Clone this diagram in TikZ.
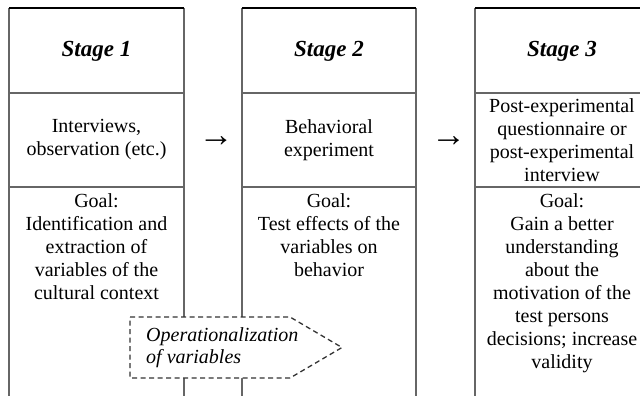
\documentclass[tikz,border=0pt]{standalone}
\usepackage{fontspec}
\setmainfont{Liberation Serif}
\begin{document}
\begin{tikzpicture}[x=1pt,y=-1pt,
  frame/.style={line width=1.4pt, draw=black!60},
  topline/.style={line width=1.6pt, draw=black},
  txt/.style={align=center, font=\fontsize{20}{23}\selectfont, inner sep=0pt},
  head/.style={font=\fontsize{23}{27}\selectfont\bfseries\itshape, inner sep=0pt},
  arr/.style={font=\fontsize{35}{36}\selectfont, inner sep=0pt},
  opbox/.style={line width=1.3pt, draw=black!80, dash pattern=on 5pt off 3.5pt, fill=white},
  optxt/.style={align=left, font=\fontsize{20}{22}\selectfont\itshape, inner sep=0pt, anchor=west}]
\useasboundingbox (0,0) rectangle (640,396);
% column 1
\draw[frame] (9,396) -- (9,8);
\draw[frame] (184,8) -- (184,396);
\draw[frame] (9,93) -- (184,93);
\draw[frame] (9,187) -- (184,187);
\draw[topline] (9,8) -- (184,8);
% column 2
\draw[frame] (242,396) -- (242,8);
\draw[frame] (416,8) -- (416,396);
\draw[frame] (242,93) -- (416,93);
\draw[frame] (242,187) -- (416,187);
\draw[topline] (242,8) -- (416,8);
% column 3
\draw[frame] (475,396) -- (475,8);
\draw[frame] (475,93) -- (641,93);
\draw[frame] (475,187) -- (641,187);
\draw[topline] (475,8) -- (641,8);
% headings
\node[head] (h1) at (96.5,51) {Stage 1};
\node[head] (h2) at (329,51) {Stage 2};
\node[head] (h3) at (562,51) {Stage 3};
% methods
\node[txt] (m1) at (96.5,140) {Interviews,\\observation (etc.)};
\node[txt] (m2) at (329,140) {Behavioral\\experiment};
\node[txt] (m3) at (562,140) {Post-experimental\\questionnaire or\\post-experimental\\interview};
% arrows
\node[arr] (a1) at (216,142) {→};
\node[arr] (a2) at (448.5,142) {→};
% goals
\node[txt, anchor=north] (g1) at (96.5,193.5) {Goal:\\Identification and\\extraction of\\variables of the\\cultural context};
\node[txt, anchor=north] (g2) at (329,193.5) {Goal:\\Test effects of the\\variables on\\behavior};
\node[txt, anchor=north] (g3) at (562,193.5) {Goal:\\Gain a better\\understanding\\about the\\motivation of the\\test persons\\decisions; increase\\validity};
% operationalization
\draw[opbox] (130,317) -- (290,317) -- (342,347.5) -- (290,378) -- (130,378) -- cycle;
\node[optxt] (op) at (146,348) {Operationalization\\of variables};
\end{tikzpicture}
\end{document}
